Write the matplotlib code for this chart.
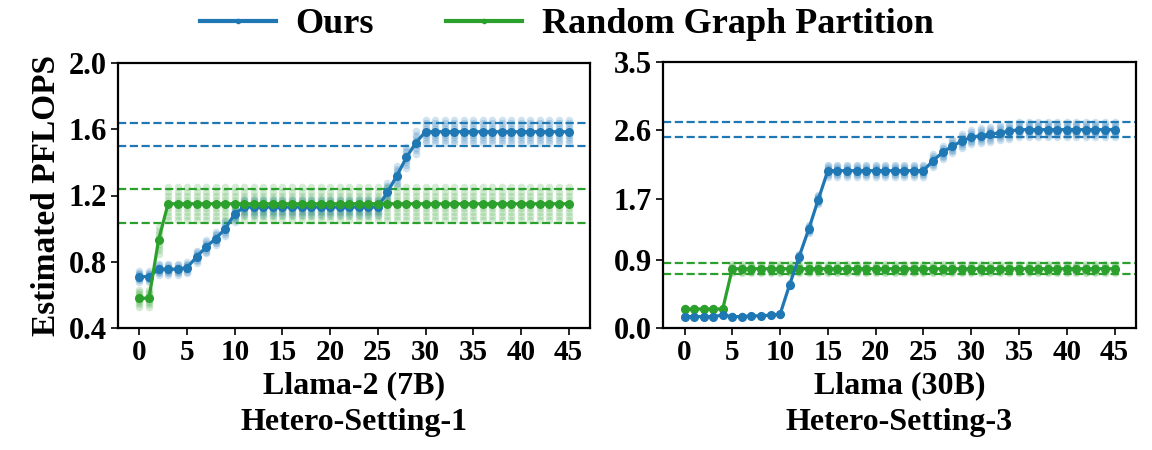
import matplotlib
matplotlib.use("Agg")
import matplotlib.pyplot as plt
from matplotlib.lines import Line2D

# ---------------- data ----------------
x_steps = list(range(46))

# Llama-2 (7B), Hetero-Setting-1
left_ours = [0.71, 0.71, 0.755, 0.755, 0.755, 0.765, 0.83, 0.89, 0.94, 1.00,
             1.09, 1.13, 1.13, 1.13, 1.13, 1.13, 1.13, 1.13, 1.13, 1.13,
             1.13, 1.13, 1.13, 1.13, 1.13, 1.13, 1.22, 1.32, 1.43, 1.52,
             1.585, 1.585, 1.585, 1.585, 1.585, 1.585, 1.585, 1.585, 1.585, 1.585,
             1.585, 1.585, 1.585, 1.585, 1.585, 1.585]
left_random = [0.58, 0.58, 0.93] + [1.15] * 43
left_ours_bounds = [1.50, 1.64]
left_random_bounds = [1.035, 1.24]

# Llama (30B), Hetero-Setting-3
right_ours = [0.15, 0.15, 0.15, 0.15, 0.17, 0.15, 0.15, 0.16, 0.16, 0.17,
              0.18, 0.57, 0.94, 1.30, 1.69, 2.07, 2.07, 2.07, 2.07, 2.07,
              2.07, 2.07, 2.07, 2.07, 2.07, 2.07, 2.20, 2.31, 2.39, 2.46,
              2.51, 2.53, 2.55, 2.57, 2.59, 2.61, 2.61, 2.61, 2.61, 2.61,
              2.61, 2.61, 2.61, 2.61, 2.61, 2.61]
right_random = [0.25, 0.25, 0.25, 0.25, 0.25] + [0.78] * 41
right_ours_bounds = [2.51, 2.71]
right_random_bounds = [0.71, 0.855]

# relative spread of the sampled estimates around each mean
left_ours_spread = 0.044
left_random_spread = 0.087
right_ours_spread = 0.038
right_random_spread = 0.075
cloud_offsets = [-1.0, -0.72, -0.48, -0.25, 0.0, 0.25, 0.48, 0.72, 1.0]

left_yticks = [0.4, 0.8, 1.2, 1.6, 2.0]
right_yticks = [0.0, 0.9, 1.7, 2.6, 3.5]
xticks = [0, 5, 10, 15, 20, 25, 30, 35, 40, 45]
series_names = ["Ours", "Random Graph Partition"]
left_xlabel = "Llama-2 (7B)\nHetero-Setting-1"
right_xlabel = "Llama (30B)\nHetero-Setting-3"
ylabel = "Estimated PFLOPS"

BLUE = "#1f77b4"
GREEN = "#2ca02c"

plt.rcParams["font.family"] = ["Liberation Serif", "DejaVu Serif"]
plt.rcParams["font.weight"] = "bold"

fig = plt.figure(figsize=(11.52, 4.5), dpi=100)
ax1 = fig.add_axes([118 / 1152, 1 - 328 / 450, 472 / 1152, (328 - 63) / 450])
ax2 = fig.add_axes([663 / 1152, 1 - 328 / 450, 473 / 1152, (328 - 62) / 450])


def draw(ax, ours, rand, ob, rb, os_, rs_, yticks, xlabel, blue_on_top=True):
    for vals, spread, col in ((ours, os_, BLUE), (rand, rs_, GREEN)):
        xs, ys = [], []
        for xi, v in zip(x_steps, vals):
            for o in cloud_offsets:
                xs.append(xi)
                ys.append(v * (1 + spread * o))
        ax.scatter(xs, ys, s=30, color=col, alpha=0.2, linewidths=0, zorder=2)
    for b in ob:
        ax.axhline(b, color=BLUE, ls="--", lw=1.6, zorder=1)
    for b in rb:
        ax.axhline(b, color=GREEN, ls="--", lw=1.6, zorder=1)
    zb, zg = (4, 3) if blue_on_top else (3, 4)
    ax.plot(x_steps, ours, color=BLUE, lw=2.3, marker="o", ms=5.5, zorder=zb)
    ax.plot(x_steps, rand, color=GREEN, lw=2.3, marker="o", ms=5.5, zorder=zg)
    ax.set_xlim(-2.25, 47.25)
    ax.set_ylim(yticks[0], yticks[-1])
    ax.set_yticks(yticks)
    ax.set_yticklabels([f"{t:.1f}" for t in yticks], fontsize=22, fontweight="bold")
    ax.set_xticks(xticks)
    ax.set_xticklabels([str(t) for t in xticks], fontsize=21, fontweight="bold")
    ax.set_xlabel(xlabel, fontsize=23, fontweight="bold", linespacing=1.35, labelpad=4)
    for sp in ax.spines.values():
        sp.set_linewidth(1.6)
    ax.tick_params(width=1.2, length=5, pad=3)


draw(ax1, left_ours, left_random, left_ours_bounds, left_random_bounds,
     left_ours_spread, left_random_spread, left_yticks, left_xlabel, blue_on_top=False)
draw(ax2, right_ours, right_random, right_ours_bounds, right_random_bounds,
     right_ours_spread, right_random_spread, right_yticks, right_xlabel, blue_on_top=True)
ax1.set_ylabel(ylabel, fontsize=24, fontweight="bold", labelpad=5)

handles = [Line2D([], [], color=BLUE, lw=3, marker="o", ms=3),
           Line2D([], [], color=GREEN, lw=3, marker="o", ms=3)]
fig.legend(handles, series_names, loc="center", bbox_to_anchor=(0.492, 0.945),
           ncol=2, frameon=False, prop={"size": 26, "weight": "bold"},
           handlelength=2.1, handletextpad=0.55, columnspacing=2.0)

fig.savefig("out.png", dpi=100)
